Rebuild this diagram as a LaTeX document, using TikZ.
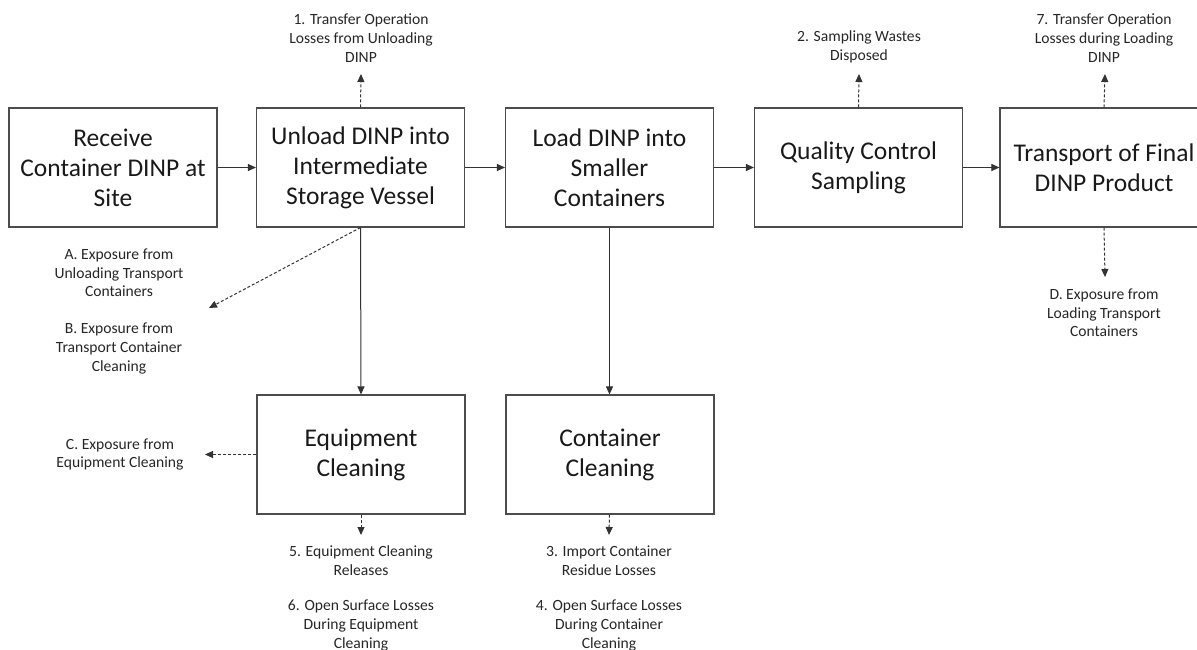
\documentclass[tikz,border=0pt]{standalone}
\usepackage{fontspec}
\setmainfont{Carlito}
\usetikzlibrary{arrows.meta}
\begin{document}
\begin{tikzpicture}[x=1pt,y=-1pt,
  stepbox/.style={draw=black!70,line width=1.1pt,minimum width=208pt,minimum height=119pt,
    align=center,inner sep=4pt,font=\fontsize{25.5}{30}\selectfont,text=black!90},
  note/.style={align=center,inner sep=0pt,font=\fontsize{15.6}{18.7}\selectfont,text=black!85},
  flow/.style={draw=black!80,line width=1pt,-{Triangle[length=8pt,width=7pt]}},
  loss/.style={flow,dash pattern=on 3pt off 2pt}]
\useasboundingbox (0,0) rectangle (1197,650);

% main process line
\node[stepbox] (recv) at (113,167.5) {Receive\\Container DINP at\\Site};
\node[stepbox] (unload) at (360.5,167.5) {Unload DINP into\\Intermediate\\Storage Vessel};
\node[stepbox] (load) at (609.5,167.5) {Load DINP into\\Smaller\\Containers};
\node[stepbox] (qc) at (858.5,167.5) {Quality Control\\Sampling};
\node[stepbox] (ship) at (1104,167.5) {Transport of Final\\DINP Product};

% cleaning steps
\node[stepbox] (equip) at (361,454.5) {Equipment\\Cleaning};
\node[stepbox] (cont) at (610,454.5) {Container\\Cleaning};

% releases and exposures
\node[note] (r1) at (361,38) {1. Transfer Operation\\Losses from Unloading\\DINP};
\node[note] (r2) at (859,46.5) {2. Sampling Wastes\\Disposed};
\node[note] (r7) at (1104,38) {7. Transfer Operation\\Losses during Loading\\DINP};
\node[note] (eD) at (1104,313) {D. Exposure from\\Loading Transport\\Containers};
\node[note] (eA) at (119,273) {A. Exposure from\\Unloading Transport\\Containers};
\node[note] (eB) at (119,348.5) {B. Exposure from\\Transport Container\\Cleaning};
\node[note] (eC) at (120,454.5) {C. Exposure from\\Equipment Cleaning};
\node[note] (r5) at (361,560.5) {5. Equipment Cleaning\\Releases};
\node[note] (r6) at (361,625.5) {6. Open Surface Losses\\During Equipment\\Cleaning};
\node[note] (r3) at (609,560.5) {3. Import Container\\Residue Losses};
\node[note] (r4) at (609,625.5) {4. Open Surface Losses\\During Container\\Cleaning};

% arrow ends of the loss connectors
\coordinate (t1) at (361,74);
\coordinate (t2) at (859,74);
\coordinate (t7) at (1105,74);
\coordinate (tD) at (1105,277);
\coordinate (tAB) at (209,308);
\coordinate (tC) at (205,454.5);
\coordinate (t5) at (361,535);
\coordinate (t3) at (609,535);

% material flow
\draw[flow] (recv) -- (unload);
\draw[flow] (unload) -- (load);
\draw[flow] (load) -- (qc);
\draw[flow] (qc) -- (ship);
\draw[flow] (unload.south) -- (equip.north);
\draw[flow] (load.south) -- (load.south |- cont.north);

% losses
\draw[loss] (unload.north) -- (t1);
\draw[loss] (qc.north) -- (t2);
\draw[loss] (ship.north) -- (t7);
\draw[loss] (ship.south) -- (tD);
\draw[loss] (unload.south) -- (tAB);
\draw[loss] (equip.west) -- (tC);
\draw[loss] (equip.south) -- (t5);
\draw[loss] (load.south |- cont.south) -- (t3);
\end{tikzpicture}
\end{document}
